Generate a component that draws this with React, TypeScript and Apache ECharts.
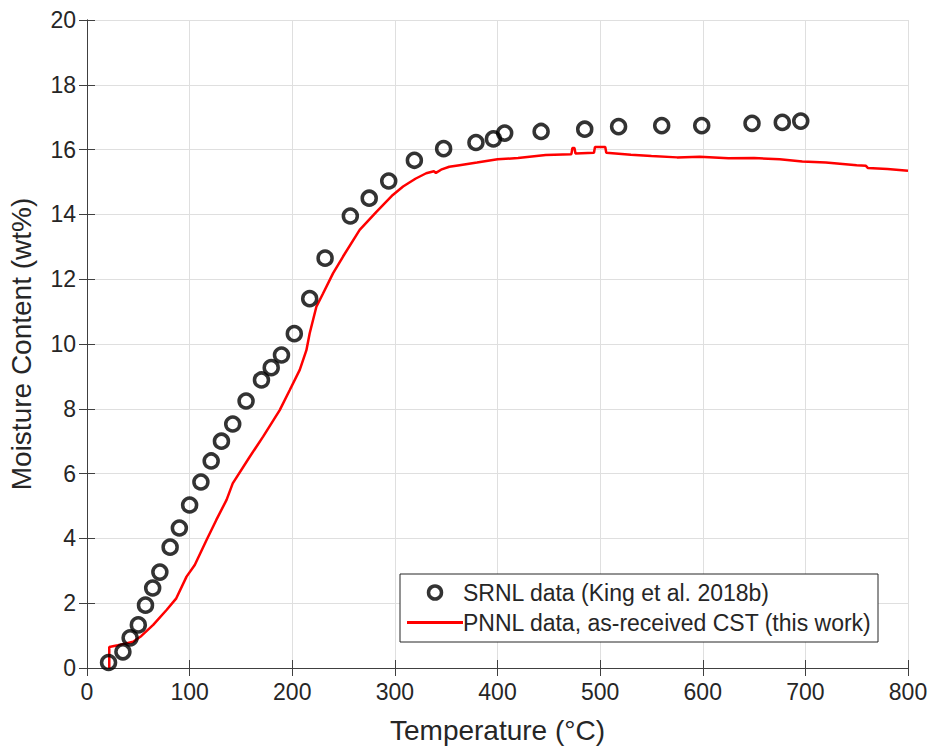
import React, { useEffect, useRef } from "react";
import * as echarts from "echarts";

const srnlTemp = [21, 35, 42, 50, 57, 64, 71, 81, 90, 100, 111, 121, 131, 142, 155, 170, 179.5, 189.5, 202, 217, 232, 256.6, 275, 294, 319, 347.5, 379, 396, 407, 442.5, 485, 518, 560, 599, 648, 677.5, 695.5];
const srnlMoisture = [0.17, 0.5, 0.93, 1.33, 1.94, 2.47, 2.96, 3.73, 4.32, 5.03, 5.74, 6.39, 7.0, 7.53, 8.24, 8.89, 9.27, 9.66, 10.32, 11.4, 12.65, 13.95, 14.5, 15.03, 15.67, 16.03, 16.22, 16.33, 16.51, 16.56, 16.63, 16.71, 16.74, 16.74, 16.81, 16.84, 16.88];

const pnnlTemp = [21.7, 21.7, 30, 34, 45, 53, 64.5, 77.5, 87, 97, 105, 116.5, 126, 136, 142, 158.6, 171.6, 187.8, 197.6, 207.3, 213.8, 217, 223.5, 230, 239.7, 249.5, 265.7, 282, 298, 308, 320, 330.5, 338, 340, 345, 353, 363, 380, 400, 420, 447, 472, 473, 475, 476, 494, 495, 505, 506, 530, 550, 575, 597, 625, 650, 675, 697, 720, 750, 759, 761, 780, 800];
const pnnlMoisture = [0.0, 0.65, 0.7, 0.73, 0.81, 0.99, 1.33, 1.79, 2.15, 2.82, 3.18, 3.95, 4.57, 5.19, 5.7, 6.52, 7.14, 7.96, 8.58, 9.2, 9.81, 10.33, 11.15, 11.56, 12.18, 12.7, 13.52, 14.08, 14.6, 14.86, 15.1, 15.27, 15.33, 15.28, 15.38, 15.47, 15.52, 15.6, 15.7, 15.74, 15.83, 15.86, 16.05, 16.05, 15.88, 15.9, 16.08, 16.08, 15.9, 15.84, 15.8, 15.76, 15.78, 15.73, 15.74, 15.7, 15.63, 15.6, 15.52, 15.5, 15.43, 15.4, 15.35];

const xTicks = { min: 0, max: 800, interval: 100 };
const yTicks = { min: 0, max: 20, interval: 2 };

const FONT = "'Liberation Sans', Arial, Helvetica, sans-serif";
const AXIS_COLOR = "#404040";
const TEXT_COLOR = "#262626";

export default function App() {
  const ref = useRef<HTMLDivElement>(null);
  useEffect(() => {
    if (!ref.current) return;
    const chart = echarts.init(ref.current, null, { renderer: "svg" });
    const srnl = srnlTemp.map((t, i) => [t, srnlMoisture[i]]);
    const pnnl = pnnlTemp.map((t, i) => [t, pnnlMoisture[i]]);
    const axisLine = { show: true, lineStyle: { color: AXIS_COLOR, width: 1 } };
    const axisTick = { show: true, inside: true, length: 8, lineStyle: { color: AXIS_COLOR } };
    chart.setOption({
      animation: false,
      backgroundColor: "#ffffff",
      textStyle: { fontFamily: FONT },
      grid: { left: 87, right: 20, top: 20, bottom: 78, outerBoundsMode: "none", containLabel: false },
      legend: {
        orient: "vertical",
        left: 400,
        top: 574,
        padding: [5, 6, 6, 7],
        itemGap: 3,
        itemWidth: 56,
        itemHeight: 13,
        backgroundColor: "#ffffff",
        borderColor: TEXT_COLOR,
        borderWidth: 1,
        borderRadius: 0,
        textStyle: { fontFamily: FONT, fontSize: 23, color: TEXT_COLOR, padding: [0, 0, 0, -5], lineHeight: 27 },
        data: [
          { name: "SRNL data (King et al. 2018b)", itemStyle: { borderWidth: 3.5, borderColor: "#000000", color: "rgba(0,0,0,0)" } },
          { name: "PNNL data, as-received CST (this work)", icon: "path://M0,0 L56,0 L56,3 L0,3 Z", itemStyle: { color: "#ff0000" } },
        ],
      },
      xAxis: [
        {
          type: "value",
          min: xTicks.min,
          max: xTicks.max,
          interval: xTicks.interval,
          name: "Temperature (°C)",
          nameLocation: "middle",
          nameGap: 48,
          nameTextStyle: { fontFamily: FONT, fontSize: 28, color: TEXT_COLOR },
          axisLine,
          axisTick,
          axisLabel: { fontFamily: FONT, fontSize: 23, color: TEXT_COLOR, margin: 12 },
          splitLine: { show: true, lineStyle: { color: "#dfdfdf", width: 1 } },
        },
        {
          type: "value",
          position: "top",
          min: xTicks.min,
          max: xTicks.max,
          interval: xTicks.interval,
          axisLine,
          axisTick,
          axisLabel: { show: false },
          splitLine: { show: false },
        },
      ],
      yAxis: [
        {
          type: "value",
          min: yTicks.min,
          max: yTicks.max,
          interval: yTicks.interval,
          name: "Moisture Content (wt%)",
          nameLocation: "middle",
          nameGap: 52,
          nameTextStyle: { fontFamily: FONT, fontSize: 28, color: TEXT_COLOR },
          axisLine,
          axisTick,
          axisLabel: { fontFamily: FONT, fontSize: 23, color: TEXT_COLOR, margin: 11 },
          splitLine: { show: true, lineStyle: { color: "#dfdfdf", width: 1 } },
        },
        {
          type: "value",
          position: "right",
          min: yTicks.min,
          max: yTicks.max,
          interval: yTicks.interval,
          axisLine,
          axisTick,
          axisLabel: { show: false },
          splitLine: { show: false },
        },
      ],
      series: [
        {
          name: "PNNL data, as-received CST (this work)",
          type: "line",
          data: pnnl,
          showSymbol: false,
          symbol: "none",
          lineStyle: { color: "#ff0000", width: 2.5 },
          itemStyle: { color: "#ff0000" },
          z: 2,
        },
        {
          name: "SRNL data (King et al. 2018b)",
          type: "scatter",
          data: srnl,
          symbol: "circle",
          symbolSize: 14,
          itemStyle: { color: "rgba(0,0,0,0)", borderColor: "#000000", borderWidth: 3.5 },
          z: 3,
        },
      ],
    });
    return () => chart.dispose();
  }, []);
  return (
    <div
      ref={ref}
      style={{ position: "fixed", left: 0, top: 0, width: 928, height: 746 }}
    />
  );
}
